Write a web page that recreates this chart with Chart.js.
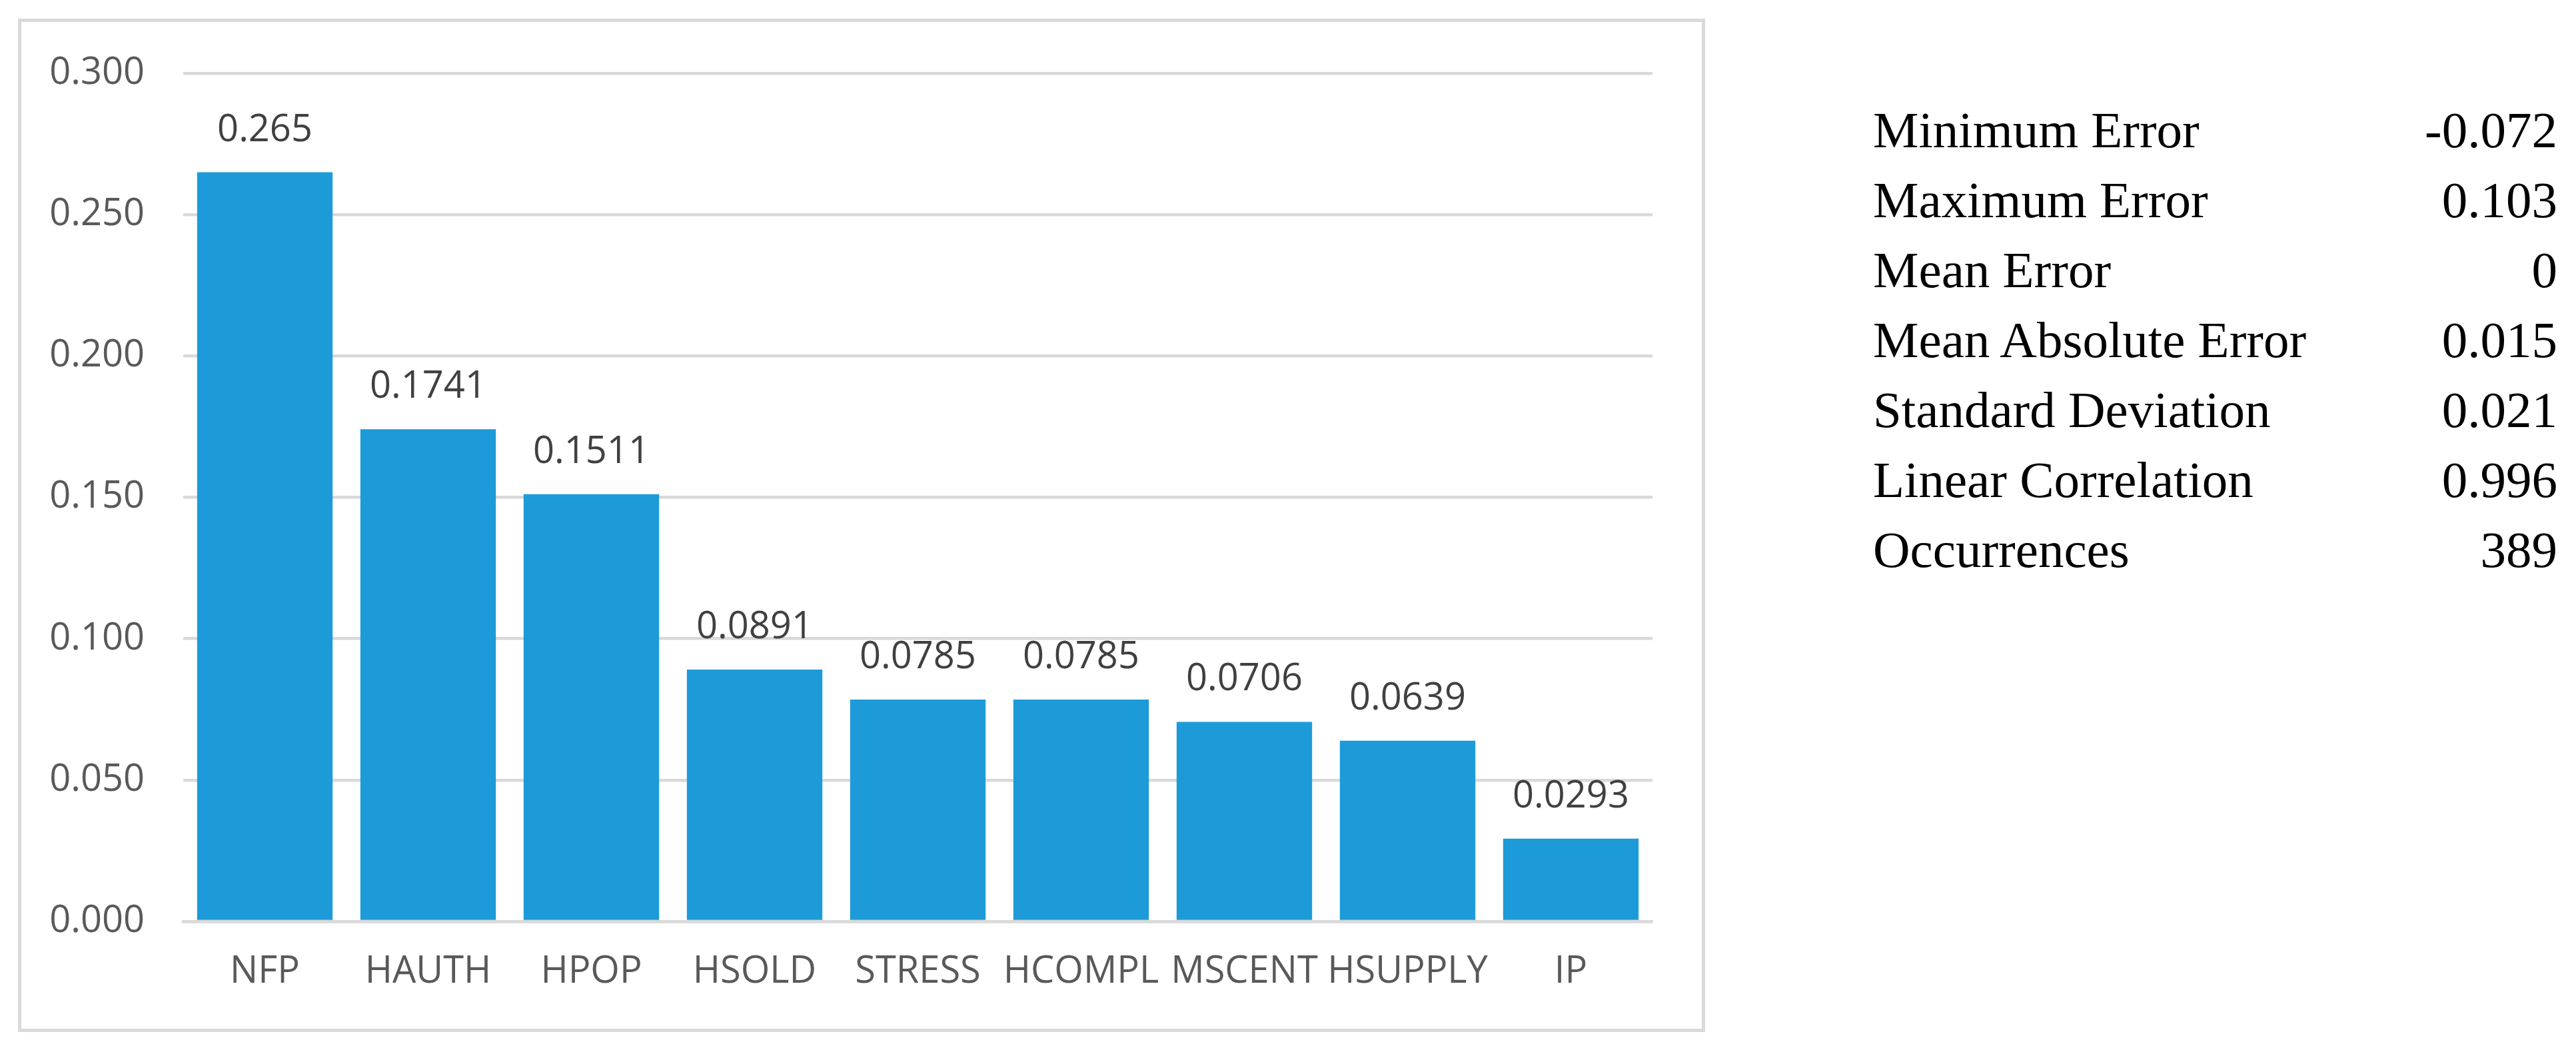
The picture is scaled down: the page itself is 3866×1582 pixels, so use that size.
<!DOCTYPE html>
<html>
<head>
<meta charset="utf-8">
<script src="https://cdn.jsdelivr.net/npm/chart.js@4.4.1/dist/chart.umd.min.js"></script>
<style>
  html, body { margin: 0; padding: 0; background: #ffffff; }
  body { width: 3866px; height: 1582px; position: relative; overflow: hidden; }
  #frame { position: absolute; left: 27px; top: 28px; width: 2532px; height: 1521px;
           box-sizing: border-box; border: 5px solid #d9d9d9; }
  #c { position: absolute; left: 0; top: 0; }
  .stat { position: absolute; font-family: "Liberation Serif", "Times New Roman", serif;
          font-size: 77px; line-height: 77px; color: #000; white-space: nowrap; }
  .lab { left: 2811px; }
  .val { right: 28px; text-align: right; }
</style>
</head>
<body>
<div id="frame"></div>
<canvas id="c" width="2600" height="1582"></canvas>
<div id="stats"></div>
<script>
const categories = ["NFP", "HAUTH", "HPOP", "HSOLD", "STRESS", "HCOMPL", "MSCENT", "HSUPPLY", "IP"];
const importance = [0.265, 0.1741, 0.1511, 0.0891, 0.0785, 0.0785, 0.0706, 0.0639, 0.0293];
const yTicks = [0.000, 0.050, 0.100, 0.150, 0.200, 0.250, 0.300];
const statLabels = ["Minimum Error", "Maximum Error", "Mean Error", "Mean Absolute Error", "Standard Deviation", "Linear Correlation", "Occurrences"];
const statValues = ["-0.072", "0.103", "0", "0.015", "0.021", "0.996", "389"];

// statistics table (real text)
const stats = document.getElementById('stats');
statLabels.forEach((t, i) => {
  const top = 222 + 105 * i - 65;
  const a = document.createElement('div');
  a.className = 'stat lab'; a.style.top = top + 'px'; a.textContent = t;
  const b = document.createElement('div');
  b.className = 'stat val'; b.style.top = top + 'px'; b.textContent = statValues[i];
  stats.appendChild(a); stats.appendChild(b);
});

const FONT = '"Open Sans", "Liberation Sans", sans-serif';

const valueLabels = {
  id: 'valueLabels',
  afterDatasetsDraw(chart) {
    const ctx = chart.ctx;
    const meta = chart.getDatasetMeta(0);
    ctx.save();
    ctx.font = '56px ' + FONT;
    ctx.fillStyle = '#404040';
    ctx.textAlign = 'center';
    ctx.textBaseline = 'alphabetic';
    meta.data.forEach((bar, i) => {
      ctx.fillText(String(chart.data.datasets[0].data[i]), bar.x, bar.y - 47);
    });
    ctx.restore();
  }
};

new Chart(document.getElementById('c'), {
  type: 'bar',
  data: {
    labels: categories,
    datasets: [{
      data: importance,
      backgroundColor: '#1d9bd8',
      borderWidth: 0,
      barPercentage: 0.83,
      categoryPercentage: 1.0
    }]
  },
  options: {
    responsive: false,
    animation: false,
    devicePixelRatio: 1,
    layout: { padding: { left: 0, right: 120, top: 110, bottom: 49 } },
    plugins: { legend: { display: false }, tooltip: { enabled: false } },
    scales: {
      x: {
        grid: { display: false, drawTicks: false },
        border: { display: true, color: '#d9d9d9', width: 4.5 },
        ticks: { color: '#595959', font: { family: FONT, size: 56 }, padding: 42, maxRotation: 0, autoSkip: false },
        afterFit(scale) { scale.height = 150; }
      },
      y: {
        min: 0, max: 0.3,
        afterBuildTicks(scale) { scale.ticks = yTicks.map(v => ({ value: v })); },
        grid: { color: '#d9d9d9', lineWidth: 4.5, drawTicks: false },
        border: { display: false },
        ticks: { color: '#595959', font: { family: FONT, size: 56 }, padding: 58,
                 callback: (v) => Number(v).toFixed(3) },
        afterFit(scale) { scale.width = 275; }
      }
    }
  },
  plugins: [valueLabels]
});
</script>
</body>
</html>
